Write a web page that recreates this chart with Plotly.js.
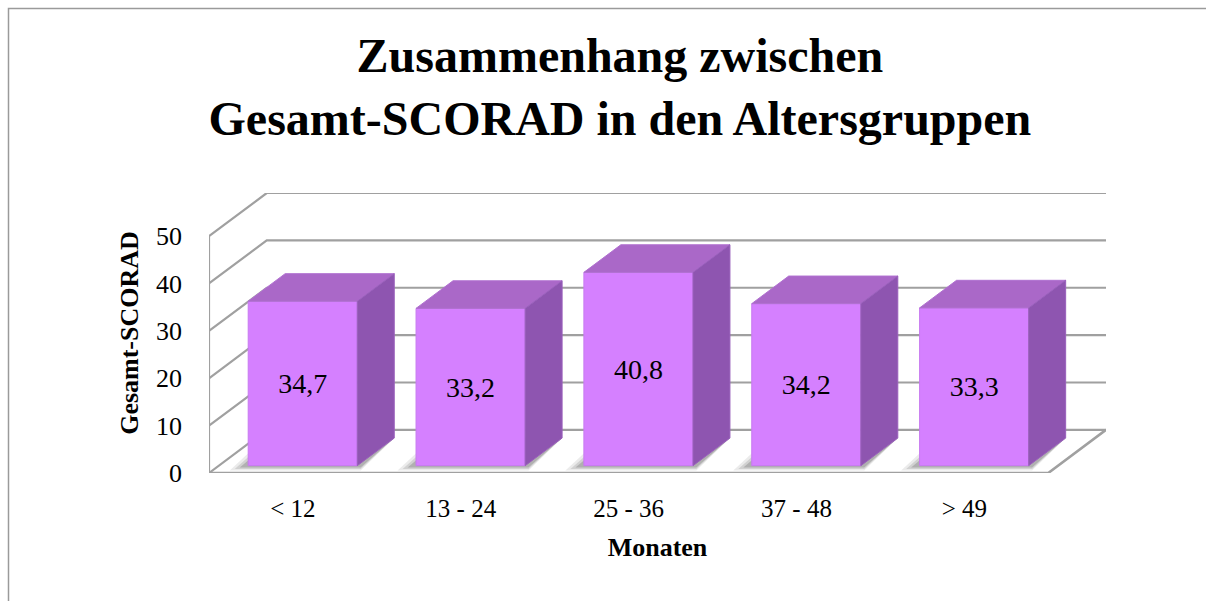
<!DOCTYPE html>
<html>
<head>
<meta charset="utf-8">
<script src="https://cdn.plot.ly/plotly-3.0.1.min.js"></script>
<style>
  html, body { margin: 0; padding: 0; background: #ffffff; }
  #chart { width: 1206px; height: 601px; }
</style>
</head>
<body>
<div id="chart"></div>
<script>
// ---- data ----
const categories = ['< 12', '13 - 24', '25 - 36', '37 - 48', '> 49'];
const values = [34.7, 33.2, 40.8, 34.2, 33.3];
const valueLabels = ['34,7', '33,2', '40,8', '34,2', '33,3'];
const yTicks = [0, 10, 20, 30, 40, 50];

// ---- 3D geometry (projection of depth onto the 2D axes) ----
const DEPTH_X = 0.344;   // category units the back wall is shifted right
const DEPTH_Y = 9.1;     // value units the back wall is shifted up
const FRONT_F = 0.17;    // depth fraction of the bar front faces
const BAR_F = 0.64;      // bar depth as fraction of floor depth
const BAR_W = 0.65;      // bar width in category units
const Y_MAX = 50;
const X_MIN = -0.5, X_MAX = categories.length - 0.5;

const fdx = FRONT_F * DEPTH_X, fdy = FRONT_F * DEPTH_Y;
const bdx = BAR_F * DEPTH_X, bdy = BAR_F * DEPTH_Y;

const L = 209, R = 100, T = 193, B = 128;
const W = 1206, H = 601;
const plotW = W - L - R, plotH = H - T - B;
const xr = [X_MIN, X_MAX + DEPTH_X];
const yr = [0, Y_MAX + DEPTH_Y];
const pxX = px => (px - L) / plotW;          // pixel -> paper
const pxY = py => (H - B - py) / plotH;

const gridColor = '#a0a0a0';
const shapes = [];

// left wall and back wall grid lines
yTicks.forEach(v => {
  shapes.push({type: 'path', layer: 'below', xref: 'x', yref: 'y',
    path: `M${X_MIN},${v} L${X_MIN + DEPTH_X},${v + DEPTH_Y} L${X_MAX + DEPTH_X},${v + DEPTH_Y}`,
    line: {color: gridColor, width: 2.2}});
});
// left wall front edge
shapes.push({type: 'line', layer: 'below', xref: 'x', yref: 'y',
  x0: X_MIN, y0: 0, x1: X_MIN, y1: Y_MAX, line: {color: gridColor, width: 2.2}});
// floor front and right edges
shapes.push({type: 'path', layer: 'below', xref: 'x', yref: 'y',
  path: `M${X_MIN},0 L${X_MAX},0 L${X_MAX + DEPTH_X},${DEPTH_Y}`,
  line: {color: gridColor, width: 2.6}});

// soft shadows under bars
categories.forEach((c, i) => {
  const x0 = i + fdx - BAR_W / 2, x1 = i + fdx + BAR_W / 2;
  const layers = [
    {sx: -0.11, sy: -1.0, a: 0.10},
    {sx: -0.08, sy: -0.7, a: 0.15},
    {sx: -0.05, sy: -0.4, a: 0.22}
  ];
  layers.forEach(s => {
    shapes.push({type: 'path', layer: 'below', xref: 'x', yref: 'y',
      path: `M${x0 + s.sx},${fdy + s.sy} L${x1 + 0.02},${fdy + s.sy} L${x1 + bdx},${fdy + bdy} L${x0 + bdx + s.sx},${fdy + bdy + 0.4} Z`,
      fillcolor: `rgba(60,60,60,${s.a})`, line: {width: 0}});
  });
});

// chart-area border (top and left)
shapes.push({type: 'path', layer: 'below', xref: 'paper', yref: 'paper',
  path: `M${pxX(8.5)},${pxY(605)} L${pxX(8.5)},${pxY(8.5)} L${pxX(1210)},${pxY(8.5)}`,
  line: {color: '#9a9a9a', width: 1.5}});

// ---- traces ----
const serif = 'Liberation Serif, DejaVu Serif, serif';
const xFront = categories.map((c, i) => i + fdx);
const traces = [];

// front faces: real bars
traces.push({
  type: 'bar',
  x: xFront,
  y: values,
  base: values.map(() => fdy),
  width: BAR_W,
  marker: {color: '#d580ff', line: {color: '#c77af0', width: 1}},
  text: valueLabels,
  textposition: 'inside',
  insidetextanchor: 'middle',
  textangle: 0,
  constraintext: 'none',
  textfont: {family: serif, size: 28, color: '#000000'},
  hoverinfo: 'skip',
  showlegend: false
});

// top and side faces built from the same values
values.forEach((v, i) => {
  const x0 = xFront[i] - BAR_W / 2, x1 = xFront[i] + BAR_W / 2;
  const yb = fdy, yt = fdy + v;
  traces.push({
    type: 'scatter', mode: 'lines', fill: 'toself',
    x: [x0, x1, x1 + bdx, x0 + bdx, x0],
    y: [yt, yt, yt + bdy, yt + bdy, yt],
    fillcolor: '#aa68c8', line: {color: '#b070d0', width: 1},
    hoverinfo: 'skip', showlegend: false
  });
  traces.push({
    type: 'scatter', mode: 'lines', fill: 'toself',
    x: [x1, x1 + bdx, x1 + bdx, x1, x1],
    y: [yb, yb + bdy, yt + bdy, yt, yb],
    fillcolor: '#8e55b0', line: {color: '#9a60bc', width: 1},
    hoverinfo: 'skip', showlegend: false
  });
});

const layout = {
  width: W, height: H,
  margin: {l: L, r: R, t: T, b: B, pad: 0},
  paper_bgcolor: '#ffffff', plot_bgcolor: 'rgba(0,0,0,0)',
  title: {
    text: 'Zusammenhang zwischen<br>Gesamt-SCORAD in den Altersgruppen',
    font: {family: serif, size: 48, color: '#000000', weight: 'bold'},
    x: 0.514, xanchor: 'center', y: 0.88, yanchor: 'top', yref: 'container'
  },
  xaxis: {
    range: xr, fixedrange: true,
    tickvals: categories.map((c, i) => i), ticktext: categories,
    showgrid: false, zeroline: false, showline: false, ticks: '',
    tickfont: {family: serif, size: 25, color: '#000000'},
    ticklabelstandoff: 18,
    title: {text: 'Monaten', font: {family: serif, size: 26, color: '#000000', weight: 'bold'}, standoff: 16}
  },
  yaxis: {
    range: yr, fixedrange: true,
    tickvals: yTicks, ticktext: yTicks.map(String),
    showgrid: false, zeroline: false, showline: false, ticks: '',
    tickfont: {family: serif, size: 26, color: '#000000'},
    ticklabelstandoff: 26,
    title: {text: 'Gesamt-SCORAD', font: {family: serif, size: 26, color: '#000000', weight: 'bold'}, standoff: 9}
  },
  bargap: 0,
  shapes: shapes,
  showlegend: false
};

Plotly.newPlot('chart', traces, layout, {displayModeBar: false, staticPlot: true});
</script>
</body>
</html>
